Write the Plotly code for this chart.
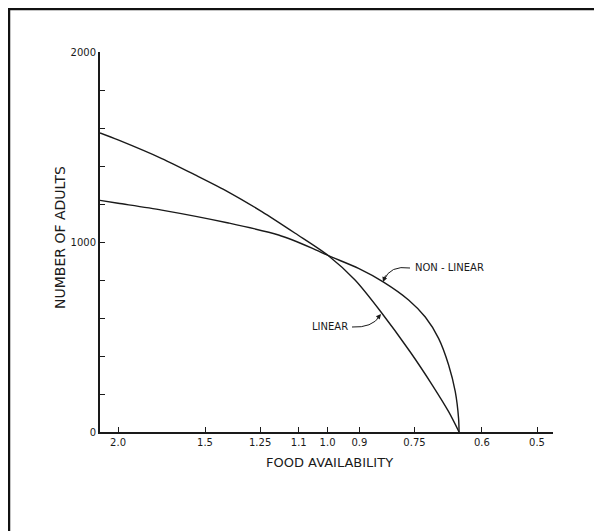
import plotly.graph_objects as go

# Food availability (x) and number of adults (y)
linear_x = [2.123, 2.0, 1.7305, 1.550, 1.388, 1.243, 1.113, 0.997, 0.913, 0.840, 0.7605, 0.7071, 0.6699, 0.6471]
linear_y = [1574, 1537, 1439, 1353, 1263, 1160, 1046, 928, 800, 637, 421, 247, 107, 0]

nonlinear_x = [2.123, 2.0, 1.7305, 1.388, 1.176, 1.053, 0.997, 0.9026, 0.8308, 0.7648, 0.7237, 0.6925, 0.6699, 0.6553, 0.6482, 0.6471]
nonlinear_y = [1219, 1204, 1168, 1100, 1037, 968, 928, 861, 789, 695, 605, 493, 353, 212, 72, 0]

x_tick_vals = [2.0, 1.5, 1.25, 1.1, 1.0, 0.9, 0.75, 0.6, 0.5]
x_tick_text = ["2.0", "1.5", "1.25", "1.1", "1.0", "0.9", "0.75", "0.6", "0.5"]
y_tick_vals = [0, 200, 400, 600, 800, 1000, 1200, 1400, 1600, 1800, 2000]
y_tick_text = ["0", "", "", "", "", "1000", "", "", "", "", "2000"]

FONT = "DejaVu Sans, Liberation Sans, Arial, sans-serif"
INK = "#1a1a1a"

fig = go.Figure()
fig.add_trace(go.Scatter(x=linear_x, y=linear_y, mode="lines", name="LINEAR",
                         line=dict(color=INK, width=1.4, shape="spline", smoothing=0.8)))
fig.add_trace(go.Scatter(x=nonlinear_x, y=nonlinear_y, mode="lines", name="NON - LINEAR",
                         line=dict(color=INK, width=1.4, shape="spline", smoothing=0.8)))

# page offset of the figure (browser body margin)
OFF = 8
W, H = 602 - OFF, 531 - OFF
PL, PR, PT, PB = 100, 553, 52, 432   # plot area in page pixels
L, R, T, B = PL - OFF, OFF + W - PR, PT - OFF, OFF + H - PB


def px2paper(px, py):
    return (px - PL) / (PR - PL), (PB - py) / (PB - PT)


# frame (top and left borders of the scanned page)
fx0, fy0 = px2paper(9, 9)
fx1, fy1 = px2paper(610, 540)
fig.add_shape(type="path", xref="paper", yref="paper",
              path=f"M {fx0} {fy1} L {fx0} {fy0} L {fx1} {fy0}",
              line=dict(color="#111", width=2.5))

# curved label arrows
def qpath(p0, c, p1):
    a = px2paper(*p0); b = px2paper(*c); d = px2paper(*p1)
    return f"M {a[0]} {a[1]} Q {b[0]} {b[1]} {d[0]} {d[1]}"

fig.add_shape(type="path", xref="paper", yref="paper",
              path=qpath((410, 268), (390, 265), (384, 280)),
              line=dict(color=INK, width=1))
fig.add_shape(type="path", xref="paper", yref="paper",
              path=qpath((352, 327), (372, 328), (380, 316)),
              line=dict(color=INK, width=1))

tx, ty = px2paper(383, 282)
fig.add_annotation(x=tx, y=ty, xref="paper", yref="paper", text="", showarrow=True,
                   ax=3, ay=-8, arrowhead=2, arrowsize=1, arrowwidth=1, arrowcolor=INK,
                   standoff=0)
tx, ty = px2paper(381, 314)
fig.add_annotation(x=tx, y=ty, xref="paper", yref="paper", text="", showarrow=True,
                   ax=-5, ay=6, arrowhead=2, arrowsize=1, arrowwidth=1, arrowcolor=INK,
                   standoff=0)

lx, ly = px2paper(413, 267)
fig.add_annotation(x=lx, y=ly, xref="paper", yref="paper", text="NON - LINEAR",
                   showarrow=False, xanchor="left", yanchor="middle",
                   font=dict(family=FONT, size=10, color=INK))
lx, ly = px2paper(350, 327)
fig.add_annotation(x=lx, y=ly, xref="paper", yref="paper", text="LINEAR",
                   showarrow=False, xanchor="right", yanchor="middle",
                   font=dict(family=FONT, size=10, color=INK))

# axis titles
ax_, ay_ = px2paper(329, 463)
fig.add_annotation(x=ax_, y=ay_, xref="paper", yref="paper", text="FOOD AVAILABILITY",
                   showarrow=False, xanchor="center", yanchor="middle",
                   font=dict(family=FONT, size=13, color=INK))
ax_, ay_ = px2paper(60, 238)
fig.add_annotation(x=ax_, y=ay_, xref="paper", yref="paper", text="NUMBER OF ADULTS",
                   showarrow=False, textangle=-90, xanchor="center", yanchor="middle",
                   font=dict(family=FONT, size=14, color=INK))

fig.update_layout(
    width=W, height=H,
    margin=dict(l=L, r=R, t=T, b=B),
    paper_bgcolor="white", plot_bgcolor="white",
    showlegend=False,
    font=dict(family=FONT, color=INK),
)
fig.update_xaxes(type="log", range=[0.327, -0.324], tickvals=x_tick_vals, ticktext=x_tick_text,
                 ticks="inside", ticklen=5, tickcolor=INK, showgrid=False, zeroline=False,
                 showline=True, linecolor=INK, linewidth=2,
                 tickfont=dict(family=FONT, size=10, color=INK))
fig.update_yaxes(range=[0, 2000], tickvals=y_tick_vals, ticktext=y_tick_text,
                 ticks="inside", ticklen=5, tickcolor=INK, showgrid=False, zeroline=False,
                 showline=True, linecolor=INK, linewidth=2,
                 tickfont=dict(family=FONT, size=10, color=INK))

fig.write_html("out.html")
